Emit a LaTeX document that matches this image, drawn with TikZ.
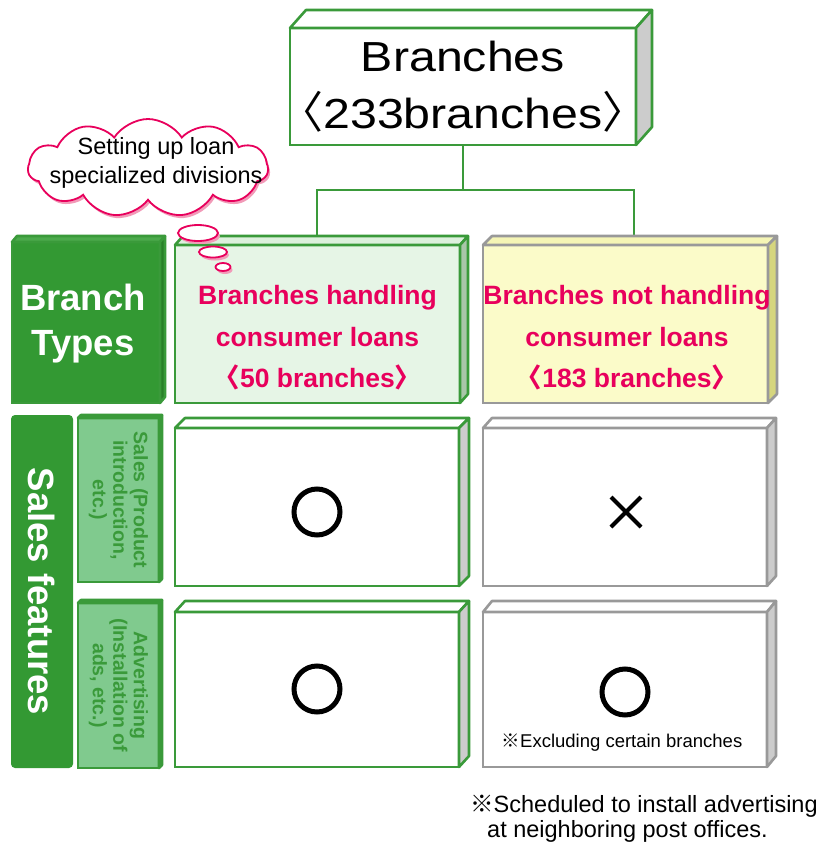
\documentclass[tikz,border=0pt]{standalone}
\usepackage{fontspec}
\setmainfont{Liberation Sans}
\newfontfamily\widesans[FakeStretch=1.15]{Liberation Sans}
\newfontfamily\cjk{Noto Sans CJK JP}
\usetikzlibrary{shapes.symbols,shapes.misc,shapes.geometric,shadows}

\definecolor{grnline}{HTML}{3A9A3A}
\definecolor{grnfill}{HTML}{339933}
\definecolor{grntop}{HTML}{4CAA4C}
\definecolor{grnside}{HTML}{2A802A}
\definecolor{mintfill}{HTML}{E6F5E6}
\definecolor{minttop}{HTML}{DDF0DD}
\definecolor{mintside}{HTML}{A9C6A9}
\definecolor{yelfill}{HTML}{FBFBC9}
\definecolor{yeltop}{HTML}{F5F5B5}
\definecolor{yelside}{HTML}{D6D67E}
\definecolor{grayline}{HTML}{999999}
\definecolor{grayside}{HTML}{CCCCCC}
\definecolor{subfill}{HTML}{80CA8E}
\definecolor{subside}{HTML}{5FAF6C}
\definecolor{pinktxt}{HTML}{E8005C}
\definecolor{pinkshadow}{HTML}{F29AB8}

\tikzset{
  front/.style={draw=#1, line width=2.6, inner sep=0, outer sep=0, align=center},
  face/.style={line width=2.6, line join=round},
  pinkhead/.style={text=pinktxt, font=\bfseries\fontsize{26.5}{41.5}\selectfont, align=center},
  subhead/.style={text=grnline, font=\bfseries\fontsize{19.5}{20.5}\selectfont, align=center, rotate=-90},
  bigwhite/.style={text=white, font=\bfseries\fontsize{36.5}{45}\selectfont, align=center},
  markline/.style={draw=black, line width=5},
  thought/.style={draw=pinktxt, line width=1.8, fill=white,
    drop shadow={shadow xshift=2pt, shadow yshift=-3pt, fill=pinkshadow, opacity=1}},
}

% top and side faces of a box whose front face is node #1
% #2,#3: depth offsets; #4 top fill; #5 side fill; #6 edge colour
\newcommand\boxfaces[6]{%
  \draw[face, draw=#6, fill=#4] (#1.north west) -- ++(#2,-#3)
    -- ([shift={(#2,-#3)}]#1.north east) -- (#1.north east) -- cycle;
  \draw[face, draw=#6, fill=#5] (#1.north east) -- ++(#2,-#3)
    -- ([shift={(#2,-#3)}]#1.south east) -- (#1.south east) -- cycle;
}

\begin{document}
\begin{tikzpicture}[x=1pt, y=-1pt]
\useasboundingbox[fill=white] (0,0) rectangle (821,844);

% tree connectors
\coordinate (split) at (463,190);
\coordinate (lefttop) at (317,237);
\coordinate (righttop) at (634,237);
\draw[grnline, line width=2.6] (463,145) -- (split);
\draw[grnline, line width=2.6] (lefttop) |- (split) -| (righttop);

% head box
\node[front=grnline, fill=white, minimum width=346, minimum height=117] (top) at (463,86.5) {};
\boxfaces{top}{16}{18}{white}{grayside}{grnline}
\node[font=\widesans\fontsize{42}{57}\selectfont, align=center, inner sep=0] (toptxt) at (top.center)
  {Branches\\{\cjk\fontsize{44}{57}\selectfont 〈}233branches{\cjk\fontsize{44}{57}\selectfont 〉}};

% branch types row
\node[front=grnline, fill=grnfill, minimum width=148, minimum height=161] (types) at (86,322.5) {};
\boxfaces{types}{5}{6}{grntop}{grnside}{grnline}
\node[bigwhite] at (83,324) {Branch\\Types};

\node[front=grnline, fill=mintfill, minimum width=285, minimum height=158] (hl) at (317.5,324) {};
\boxfaces{hl}{8}{9}{minttop}{mintside}{grnline}
\node[pinkhead] at (317.5,338) {Branches handling\\consumer loans\\{\cjk 〈}50 branches{\cjk 〉}};

\node[front=grayline, fill=yelfill, minimum width=285, minimum height=158] (nh) at (625.5,324) {};
\boxfaces{nh}{9}{9}{yeltop}{yelside}{grayline}
\node[pinkhead] at (627,338) {Branches not handling\\consumer loans\\{\cjk 〈}183 branches{\cjk 〉}};

% sales features column
\node[fill=grnfill, rounded corners=4, minimum width=62, minimum height=353, inner sep=0] (feat) at (42,591.5) {};
\node[bigwhite, rotate=-90] at (feat.center) {Sales features};

\node[front=grnline, fill=subfill, minimum width=81, minimum height=164] (sales) at (118.5,500) {};
\boxfaces{sales}{3}{3}{subfill}{subside}{grnline}
\node[subhead] at (sales.center) {Sales (Product\\introduction,\\etc.)};
\node[front=grnline, fill=subfill, minimum width=81, minimum height=165] (adv) at (118.5,685.5) {};
\boxfaces{adv}{3}{3}{subfill}{subside}{grnline}
\node[subhead] at (adv.center) {Advertising\\(Installation of\\ads, etc.)};

% feature cells
\node[front=grnline, fill=white, minimum width=284, minimum height=158] (c11) at (317,507) {};
\boxfaces{c11}{10}{10}{white}{grayside}{grnline}
\node[front=grayline, fill=white, minimum width=284, minimum height=158] (c12) at (625,507) {};
\boxfaces{c12}{9}{10}{white}{grayside}{grayline}
\node[front=grnline, fill=white, minimum width=284, minimum height=155] (c21) at (317,689.5) {};
\boxfaces{c21}{10}{11}{white}{grayside}{grnline}
\node[front=grayline, fill=white, minimum width=284, minimum height=155] (c22) at (625,689.5) {};
\boxfaces{c22}{9}{11}{white}{grayside}{grayline}

% marks
\node[markline, circle, minimum size=46, inner sep=0] (m11) at (317,512) {};
\node[markline, cross out, minimum size=26, line width=4, inner sep=0] (m12) at (626,512) {};
\node[markline, circle, minimum size=46, inner sep=0] (m21) at (317,689) {};
\node[markline, circle, minimum size=46, inner sep=0] (m22) at (625,692) {};
\node[font=\fontsize{18.5}{20}\selectfont] (excl) at (622,743) {{\cjk ※}Excluding certain branches};

% thought cloud
\node[thought, cloud, cloud puffs=11, cloud puff arc=115, aspect=2.4,
      minimum width=240, minimum height=98, inner sep=0] (cloud) at (148,168) {};
\node[font=\fontsize{23.5}{29}\selectfont, align=center] (cloudtxt) at (156,163) {Setting up loan\\specialized divisions};
\node[thought, ellipse, minimum width=40, minimum height=16, inner sep=0] (b1) at (198,233) {};
\node[thought, ellipse, minimum width=28, minimum height=11, inner sep=0] (b2) at (213,252) {};
\node[thought, ellipse, minimum width=15, minimum height=8, inner sep=0] (b3) at (223,267) {};

% footnote
\node[anchor=west, inner sep=0, font=\fontsize{23.5}{25}\selectfont] (note1) at (470,806) {{\cjk ※}Scheduled to install advertising};
\node[anchor=west, inner sep=0, font=\fontsize{23.5}{25}\selectfont] (note2) at (487,831) {at neighboring post offices.};
\end{tikzpicture}
\end{document}
